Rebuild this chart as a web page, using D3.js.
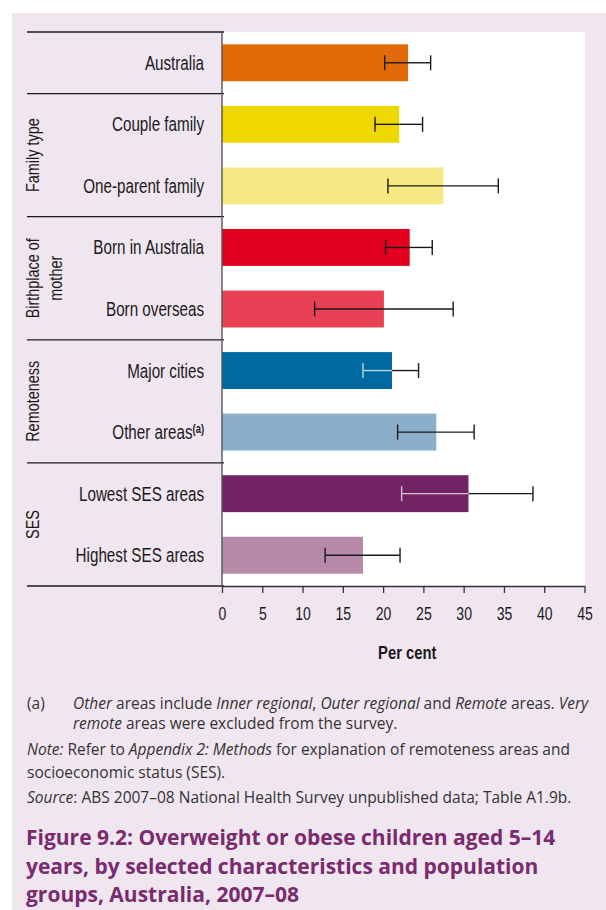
<!DOCTYPE html>
<html>
<head>
<meta charset="utf-8">
<script src="https://cdn.jsdelivr.net/npm/d3@7"></script>
<style>
  html, body { margin: 0; padding: 0; background: #ffffff; }
  svg { display: block; }
  .narrow { font-family: "Liberation Sans", Arial, sans-serif; }
  .note { font-family: "Open Sans", "Noto Sans", sans-serif; }
</style>
</head>
<body>
<div id="chart"></div>
<script>
// Overweight or obese children aged 5–14, 2007–08 (per cent, with 95% CI)
const categories = ["Australia", "Couple family", "One-parent family", "Born in Australia",
  "Born overseas", "Major cities", "Other areas", "Lowest SES areas", "Highest SES areas"];
const categoryNotes = ["", "", "", "", "", "", "(a)", "", ""];
const values = [23.1, 22.0, 27.5, 23.3, 20.1, 21.1, 26.6, 30.6, 17.5];
const ciLow  = [20.2, 19.0, 20.6, 20.3, 11.5, 17.5, 21.8, 22.3, 12.8];
const ciHigh = [25.9, 24.9, 34.3, 26.1, 28.7, 24.4, 31.3, 38.6, 22.1];
const barColours = ["#e06b08", "#eed800", "#f6e983", "#e2001e", "#e84055",
  "#006aa0", "#8baecb", "#722364", "#b68aa8"];

// Grouping of the rows (index of first row, index after last row)
const groupLabels = [[], ["Family type"], ["Birthplace of", "mother"], ["Remoteness"], ["SES"]];
const groupStarts = [0, 1, 3, 5, 7];
const groupEnds   = [1, 3, 5, 7, 9];

const xTicks = [0, 5, 10, 15, 20, 25, 30, 35, 40, 45];
const xTitle = "Per cent";

const W = 606, H = 910;
const panelColour = "#f0e6ef";
const inkColour = "#1a1a1a";
const squeeze = 0.78;   // horizontal compression giving a condensed face

const svg = d3.select("#chart").append("svg")
  .attr("width", W).attr("height", H);

// Tinted panel behind the figure
svg.append("rect").attr("x", 12).attr("y", 13)
  .attr("width", W - 12).attr("height", H - 13).attr("fill", panelColour);

const plot = { left: 222, right: 584.5, top: 32, bottom: 586 };

const x = d3.scaleLinear().domain([0, 45]).range([plot.left, plot.right]);
const y = d3.scaleBand().domain(categories)
  .range([plot.top, plot.bottom]).paddingInner(0.4).paddingOuter(0.2);

// White plotting area
svg.append("rect").attr("x", plot.left).attr("y", plot.top)
  .attr("width", 585 - plot.left).attr("height", plot.bottom - plot.top)
  .attr("fill", "#ffffff");

// Bars
const rows = categories.map((c, i) => ({
  cat: c, note: categoryNotes[i], v: values[i], lo: ciLow[i], hi: ciHigh[i], col: barColours[i]
}));

svg.append("g").selectAll("rect").data(rows).join("rect")
  .attr("x", x(0))
  .attr("y", d => y(d.cat))
  .attr("width", d => x(d.v) - x(0))
  .attr("height", y.bandwidth())
  .attr("fill", d => d.col);

// Error bars; inside a dark bar the part over the bar is drawn light
const capHalf = 7.5;
const eb = svg.append("g").attr("stroke-width", 1.4).attr("fill", "none");
rows.forEach(d => {
  const cy = y(d.cat) + y.bandwidth() / 2;
  const dark = d3.lab(d.col).l < 46;
  const inner = dark ? d3.interpolateRgb(d.col, "#ffffff")(0.72) : inkColour;
  const split = Math.min(Math.max(d.v, d.lo), d.hi);
  eb.append("line").attr("x1", x(d.lo)).attr("x2", x(split))
    .attr("y1", cy).attr("y2", cy).attr("stroke", inner);
  eb.append("line").attr("x1", x(split)).attr("x2", x(d.hi))
    .attr("y1", cy).attr("y2", cy).attr("stroke", inkColour);
  eb.append("line").attr("x1", x(d.lo)).attr("x2", x(d.lo))
    .attr("y1", cy - capHalf).attr("y2", cy + capHalf)
    .attr("stroke", d.lo < d.v ? inner : inkColour);
  eb.append("line").attr("x1", x(d.hi)).attr("x2", x(d.hi))
    .attr("y1", cy - capHalf).attr("y2", cy + capHalf)
    .attr("stroke", d.hi < d.v ? inner : inkColour);
});

// Row separators in the label column
const step = y.step();
const boundaries = Array.from(new Set(groupStarts.concat(groupEnds))).sort((a, b) => a - b);
svg.append("g").selectAll("line").data(boundaries).join("line")
  .attr("x1", 27).attr("x2", plot.left + 2)
  .attr("y1", k => plot.top + k * step).attr("y2", k => plot.top + k * step)
  .attr("stroke", inkColour).attr("stroke-width", 1.3);

// Vertical axis line
svg.append("line").attr("x1", plot.left).attr("x2", plot.left)
  .attr("y1", plot.top).attr("y2", plot.bottom)
  .attr("stroke", "#555555").attr("stroke-width", 1.4);

// X axis
const xAxis = svg.append("g")
  .attr("transform", `translate(0,${plot.bottom})`)
  .call(d3.axisBottom(x).tickValues(xTicks).tickSize(7).tickPadding(14).tickSizeOuter(0));
xAxis.select(".domain").attr("stroke", "#333333").attr("stroke-width", 1.3);
xAxis.selectAll(".tick line").attr("stroke", "#333333").attr("stroke-width", 1.3);
xAxis.selectAll(".tick text").attr("class", "narrow")
  .attr("font-size", 18).attr("fill", inkColour)
  .attr("transform", `scale(${squeeze},1)`);

svg.append("text").attr("class", "narrow")
  .attr("transform", `translate(${(plot.left + plot.right) / 2 + 4},659) scale(${squeeze},1)`)
  .attr("text-anchor", "middle").attr("font-size", 19).attr("font-weight", "bold")
  .attr("fill", inkColour).text(xTitle);

// Category labels
const labels = svg.append("g").selectAll("text").data(rows).join("text")
  .attr("class", "narrow")
  .attr("transform", d => `translate(204,${y(d.cat) + y.bandwidth() / 2}) scale(${squeeze},1)`)
  .attr("dy", "0.36em")
  .attr("text-anchor", "end")
  .attr("font-size", 19.5)
  .attr("fill", inkColour);
labels.append("tspan").text(d => d.cat);
labels.filter(d => d.note).append("tspan")
  .attr("font-size", 12).attr("font-weight", "bold").attr("dy", "-0.55em")
  .text(d => d.note);

// Group labels, rotated
groupLabels.forEach((lines, gi) => {
  if (!lines.length) return;
  const cy = plot.top + (groupStarts[gi] + groupEnds[gi]) / 2 * step;
  lines.forEach((line, li) => {
    const bx = 38.5 + li * 23.5;
    svg.append("text").attr("class", "narrow")
      .attr("transform", `translate(${bx},${cy}) rotate(-90) scale(${squeeze},1)`)
      .attr("text-anchor", "middle")
      .attr("font-size", 18.5).attr("fill", inkColour)
      .text(line);
  });
});

// Footnotes
const noteColour = "#333333";
const noteSize = 15.5;
function noteLine(xPos, yPos, parts) {
  const t = svg.append("text").attr("class", "note")
    .attr("x", xPos).attr("y", yPos)
    .attr("font-size", noteSize).attr("fill", noteColour);
  parts.forEach(([s, it]) => {
    t.append("tspan").attr("font-style", it ? "italic" : "normal").text(s);
  });
  return t;
}
noteLine(27, 709, [["(a)", false]]);
noteLine(73, 709, [["Other", true], [" areas include ", false], ["Inner regional", true],
  [", ", false], ["Outer regional", true], [" and ", false], ["Remote", true],
  [" areas. ", false], ["Very", true]]);
noteLine(73, 729, [["remote", true], [" areas were excluded from the survey.", false]]);
noteLine(27, 755, [["Note:", true], [" Refer to ", false], ["Appendix 2: Methods", true],
  [" for explanation of remoteness areas and", false]]);
noteLine(27, 778, [["socioeconomic status (SES).", false]]);
noteLine(27, 803, [["Source", true], [": ABS 2007–08 National Health Survey unpublished data; Table A1.9b.", false]]);

// Figure title
const titleLines = ["Figure 9.2: Overweight or obese children aged 5–14",
  "years, by selected characteristics and population",
  "groups, Australia, 2007–08"];
svg.append("g").selectAll("text").data(titleLines).join("text")
  .attr("class", "note")
  .attr("x", 26).attr("y", (d, i) => 845 + i * 28.5)
  .attr("font-size", 21).attr("font-weight", "bold")
  .attr("fill", "#7a2a6e")
  .text(d => d);
</script>
</body>
</html>
